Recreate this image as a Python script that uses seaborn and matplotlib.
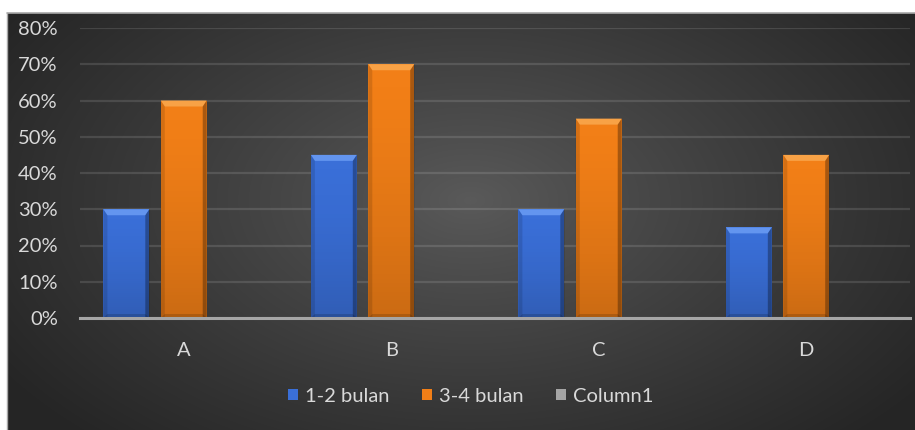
import numpy as np
import pandas as pd
import matplotlib
matplotlib.use("Agg")
import matplotlib.pyplot as plt
import seaborn as sns
from matplotlib.patches import Polygon, Rectangle, Patch
from matplotlib.ticker import PercentFormatter

categories = ["A", "B", "C", "D"]
series_names = ["1-2 bulan", "3-4 bulan", "Column1"]
bulan_1_2 = [0.30, 0.45, 0.30, 0.25]
bulan_3_4 = [0.60, 0.70, 0.55, 0.45]
column1 = [np.nan, np.nan, np.nan, np.nan]
y_ticks = [0, 0.1, 0.2, 0.3, 0.4, 0.5, 0.6, 0.7, 0.8]

colors = {"1-2 bulan": "#3a6fd8", "3-4 bulan": "#f27f17", "Column1": "#a5a5a5"}
tops = {"1-2 bulan": "#6395ef", "3-4 bulan": "#f8a246"}

rows = []
for name, vals in zip(series_names, [bulan_1_2, bulan_3_4, column1]):
    for c, v in zip(categories, vals):
        rows.append({"cat": c, "series": name, "value": v})
df = pd.DataFrame(rows)

sns.set_style("dark")
plt.rcParams["font.family"] = ["Lato", "DejaVu Sans"]
text_color = "#d9d9d9"

W, H, DPI = 915, 430, 100
fig = plt.figure(figsize=(W / DPI, H / DPI), dpi=DPI)
fig.patch.set_facecolor("white")

# background with radial gradient
bg = fig.add_axes([0, 0, 1, 1], zorder=-10)
bg.set_axis_off()
bx0, by1 = 7 / W, 1 - 13 / H
yy, xx = np.mgrid[0:H, 0:W]
cx, cy = 470, 200
r = np.sqrt(((xx - cx) / 560.0) ** 2 + ((yy - cy) / 330.0) ** 2)
r = np.clip(r, 0, 1)
lo, hi = 0x25 / 255, 0x5a / 255
val = hi - (hi - lo) * r ** 0.9
img = np.dstack([val, val, val])
bg.imshow(img, extent=[0, 1, 0, 1], aspect="auto", origin="upper")
bg.add_patch(Rectangle((0, by1), 1, 1 - by1, facecolor="white", edgecolor="none", transform=bg.transAxes, zorder=5))
bg.add_patch(Rectangle((0, 0), bx0, 1, facecolor="white", edgecolor="none", transform=bg.transAxes, zorder=5))
bg.plot([bx0, 1], [by1, by1], color="#a8a8a8", lw=1.2, transform=bg.transAxes, zorder=6)
bg.plot([bx0, bx0], [0, by1], color="#a8a8a8", lw=1.0, transform=bg.transAxes, zorder=6)
bg.set_xlim(0, 1)
bg.set_ylim(0, 1)

ax_l, ax_r = 80 / W, 910 / W
ax_b, ax_t = 1 - 318 / H, 1 - 28 / H
ax = fig.add_axes([ax_l, ax_b, ax_r - ax_l, ax_t - ax_b])
ax.set_facecolor("none")

sns.barplot(data=df, x="cat", y="value", hue="series", hue_order=series_names,
            order=categories, palette=colors, width=0.83, gap=0.2, dodge=True,
            saturation=1, ax=ax, legend=False, errorbar=None, linewidth=0, zorder=3)

ax.set_xlim(-0.5, len(categories) - 0.5)
ax.set_ylim(0, 0.8)
ax.set_yticks(y_ticks)
ax.yaxis.set_major_formatter(PercentFormatter(1.0, decimals=0))
ax.set_xlabel("")
ax.set_ylabel("")
ax.grid(axis="y", color="white", alpha=0.12, lw=1.6, zorder=0)
ax.grid(axis="x", visible=False)
for s in ["top", "right", "left"]:
    ax.spines[s].set_visible(False)
ax.spines["bottom"].set_color("#a6a6a6")
ax.spines["bottom"].set_linewidth(2.2)
ax.spines["bottom"].set_zorder(6)
ax.tick_params(axis="y", length=0, pad=16, labelsize=14.5, labelcolor=text_color)
ax.tick_params(axis="x", length=0, pad=17, labelsize=14.5, labelcolor=text_color)

# bevel effects derived from bar geometry
ax_w_px = (ax_r - ax_l) * W
ax_h_px = (ax_t - ax_b) * H
dxp = len(categories) / ax_w_px
dyp = 0.8 / ax_h_px
shade = np.linspace(0, 1, 64).reshape(-1, 1)
shade_rgba = np.zeros((64, 1, 4))
shade_rgba[..., 3] = (shade[:, :] ** 1.5) * 0.16
bars = [p for p in ax.patches if isinstance(p, Rectangle)]
for p in bars:
    h = p.get_height()
    if not np.isfinite(h) or h <= 0:
        continue
    x0, w = p.get_x(), p.get_width()
    x1 = x0 + w
    fc = p.get_facecolor()
    name = None
    for k, v in colors.items():
        if np.allclose(matplotlib.colors.to_rgb(v), fc[:3], atol=0.02):
            name = k
    bv_y = 6 * dyp
    bv_x = 4 * dxp
    # smooth darkening toward bottom
    im = ax.imshow(shade_rgba, extent=[x0, x1, 0, h], origin="upper", aspect="auto",
                   zorder=3.5, interpolation="bilinear")
    im.set_clip_path(p)
    # top bevel
    ax.add_patch(Polygon([[x0, h], [x1, h], [x1 - bv_x, h - bv_y], [x0 + bv_x, h - bv_y]],
                         closed=True, facecolor=tops.get(name, "white"), edgecolor="none", zorder=4))
    # left edge
    ax.add_patch(Polygon([[x0, 0], [x0, h], [x0 + bv_x, h - bv_y], [x0 + bv_x, 0]],
                         closed=True, facecolor="black", alpha=0.12, edgecolor="none", zorder=4))
    # right edge darker
    ax.add_patch(Polygon([[x1, 0], [x1, h], [x1 - bv_x, h - bv_y], [x1 - bv_x, 0]],
                         closed=True, facecolor="black", alpha=0.30, edgecolor="none", zorder=4))
    # bottom bevel
    ax.add_patch(Polygon([[x0, 0], [x1, 0], [x1 - bv_x, 4 * dyp], [x0 + bv_x, 4 * dyp]],
                         closed=True, facecolor="black", alpha=0.15, edgecolor="none", zorder=4))
ax.set_xlim(-0.5, len(categories) - 0.5)
ax.set_ylim(0, 0.8)

handles = [Patch(facecolor=colors[n], edgecolor="none", label=n) for n in series_names]
leg = fig.legend(handles=handles, loc="center", bbox_to_anchor=(471 / W, 1 - 396 / H),
                 ncol=3, frameon=False, fontsize=14.5, labelcolor=text_color,
                 handlelength=0.5, handleheight=0.5, handletextpad=0.35, columnspacing=1.6)

fig.savefig("out.png", dpi=DPI, facecolor=fig.get_facecolor())
